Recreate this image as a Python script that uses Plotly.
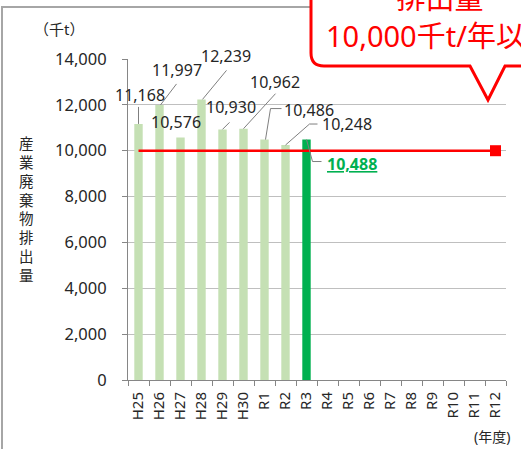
import plotly.graph_objects as go

# categories (fiscal years) and waste amounts (thousand t)
years = ["H25", "H26", "H27", "H28", "H29", "H30", "R1", "R2", "R3",
         "R4", "R5", "R6", "R7", "R8", "R9", "R10", "R11", "R12"]
actual_years = years[:9]
amounts = [11168, 11997, 10576, 12239, 10930, 10962, 10486, 10248, 10488]
target = 10000

W, H = 521, 449
L, R, T, B = 128, 15, 59, 69
PW, PH = W - L - R, H - T - B

FONT = "Noto Sans, Noto Sans CJK JP"


def px(x, y):
    # pixel position -> paper coords (for decorations only)
    return (x - L) / PW, (H - B - y) / PH


def path(cmds):
    out = []
    for c, pts in cmds:
        coords = []
        for (x, y) in pts:
            a, b = px(x, y)
            coords.append(f"{a:.5f},{b:.5f}")
        out.append(c + " " + " ".join(coords))
    return " ".join(out)


def note(x, y, text, size, color="#262626"):
    a, b = px(x, y)
    return dict(xref="paper", yref="paper", x=a, y=b, xanchor="center",
                yanchor="middle", showarrow=False, text=text,
                font=dict(family=FONT, size=size, color=color))


bar_colors = ["#C5E0B4"] * (len(amounts) - 1) + ["#00B050"]

fig = go.Figure()
fig.add_trace(go.Bar(x=actual_years, y=amounts, marker_color=bar_colors,
                     marker_line_width=0, hoverinfo="skip"))
fig.add_trace(go.Scatter(x=[years[0], years[-1]], y=[target, target], mode="lines",
                         line=dict(color="#FF0000", width=2.5), hoverinfo="skip"))
fig.add_trace(go.Scatter(x=[years[-1]], y=[target], mode="markers",
                         marker=dict(symbol="square", size=11, color="#FF0000"),
                         hoverinfo="skip"))

# label offsets from bar top (px, y up) and leader polylines
label_pos = [(1, 29), (17, 35), (-5, 16), (24, 43), (8, 22), (31, 47), (44, 30), (61, 21), (45, -24)]
leaders = [
    [(0, 0), (0, 17)],
    [(1, 0), (17, 21)],
    None,
    [(1, 0), (25, 29)],
    [(0, 0), (7, 7)],
    [(0, 0), (32, 35)],
    [(1, 0), (6, 31), (17, 31)],
    [(0, 0), (24, 21), (32, 21)],
    [(0, 0), (6, -22), (15, -22)],
]

annotations = []
shapes = []
for i, (yr, v) in enumerate(zip(actual_years, amounts)):
    dx, dy = label_pos[i]
    last = i == len(amounts) - 1
    annotations.append(dict(
        x=yr, y=v, xref="x", yref="y", text=f"{v:,}", showarrow=False,
        xanchor="center", yanchor="middle", xshift=dx, yshift=dy,
        font=dict(family=FONT, size=16,
                  color="#00B050" if last else "#262626",
                  weight="bold" if last else "normal",
                  lineposition="under" if last else "none")))
    if leaders[i]:
        p = "M " + " L ".join(f"{a},{b}" for a, b in leaders[i])
        shapes.append(dict(type="path", xref="x", yref="y", xsizemode="pixel",
                           ysizemode="pixel", xanchor=yr, yanchor=v, path=p,
                           line=dict(color="#7F7F7F", width=1), layer="above"))

# outer frame
shapes.append(dict(type="path", xref="paper", yref="paper", layer="below",
                   path=path([("M", [(2, 470)]), ("L", [(2, 7)]), ("L", [(540, 7)])]),
                   line=dict(color="#A6A6A6", width=2)))

# callout balloon
shapes.append(dict(type="path", xref="paper", yref="paper", layer="above",
                   path=path([("M", [(560, -30)]), ("L", [(311, -30)]),
                              ("L", [(311, 53)]), ("Q", [(311, 66), (324, 66)]),
                              ("L", [(470, 66)]), ("L", [(488, 100)]), ("L", [(505, 66)]),
                              ("L", [(560, 66)]), ("Z", [])]),
                   fillcolor="white", line=dict(color="#FF0000", width=3)))

annotations.append(note(440, 17, "排出量<br>10,000千t/年以下", 29, "#FF0000"))
annotations.append(note(59, 29, "（千t）", 15))
annotations.append(note(492, 437, "(年度)", 14))
annotations.append(note(26, 209, "<br>".join("産業廃棄物排出量"), 14.5))

fig.update_layout(
    width=W, height=H,
    margin=dict(l=L, r=R, t=T, b=B, autoexpand=False),
    paper_bgcolor="white", plot_bgcolor="white",
    showlegend=False, bargap=0.6,
    font=dict(family=FONT, size=16, color="#262626"),
    annotations=annotations, shapes=shapes,
    xaxis=dict(type="category", categoryorder="array", categoryarray=years,
               range=[-0.5, len(years) - 0.5], tickson="boundaries",
               ticks="outside", ticklen=5, tickcolor="#868686",
               tickangle=-90, tickfont=dict(size=15), ticklabelstandoff=5,
               automargin=False,
               showline=True, linecolor="#868686", linewidth=1, showgrid=False),
    yaxis=dict(range=[0, 14000], dtick=2000, tickformat=",d",
               ticks="outside", ticklen=5, tickcolor="#868686", automargin=False,
               tickfont=dict(size=16.5), ticklabelstandoff=12,
               showline=True, linecolor="#868686", linewidth=1,
               showgrid=True, gridcolor="#BFBFBF", gridwidth=1,
               zeroline=False),
)

# drop the default body margin so the figure fills the window
fig.write_html("out.html", config={"displayModeBar": False},
               post_script="document.body.style.margin='0';")
